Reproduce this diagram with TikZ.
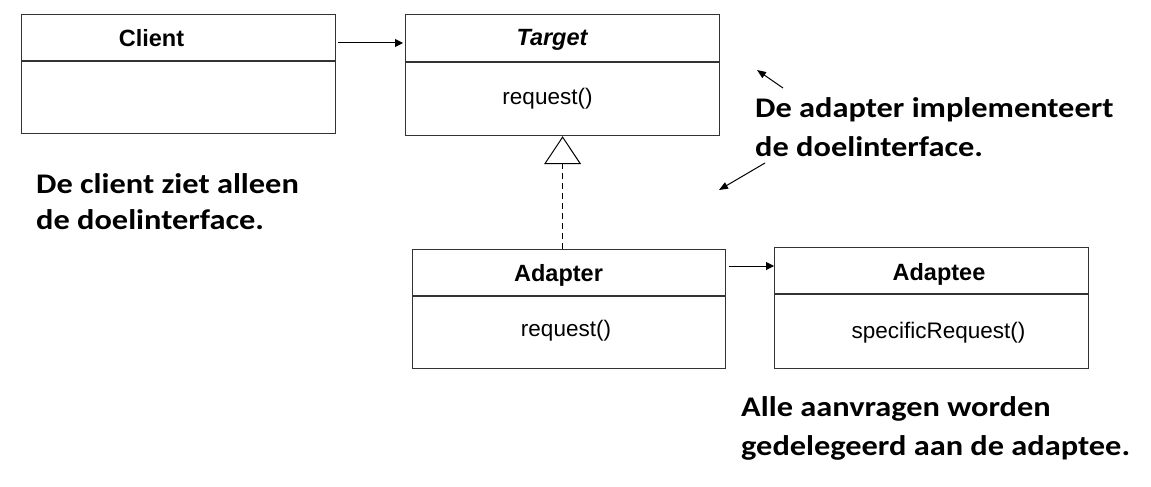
\documentclass[tikz,border=0pt]{standalone}
\usepackage{fontspec}
\setmainfont{Liberation Sans}
\newfontfamily\notefont{Carlito}[FakeStretch=1.14]
\usetikzlibrary{arrows.meta}
\tikzset{
  umlbox/.style={draw=black!80, line width=1.2pt, anchor=north west, inner sep=0pt, minimum width=314pt, minimum height=119pt},
  divider/.style={draw=black!80, line width=1.2pt},
  title/.style={anchor=base, inner sep=0pt, font=\fontsize{23.5}{28}\selectfont\bfseries},
  method/.style={anchor=base, inner sep=0pt, font=\fontsize{22.5}{27}\selectfont},
  note/.style={anchor=base west, inner sep=0pt, align=left},
  assoc/.style={line width=1pt, -{Triangle[length=8pt,width=8pt]}},
  realize/.style={line width=1pt, dash pattern=on 6pt off 4pt, -{Triangle[open, length=28pt, width=37pt, fill=white]}},
  pointer/.style={line width=1pt, -{Triangle[length=9pt,width=7pt]}}
}
\begin{document}
\begin{tikzpicture}[x=1pt,y=-1pt]
\useasboundingbox (0,0) rectangle (1151,487);
\fill[white] (0,0) rectangle (1151,487);

% Client
\node[umlbox] (client) at (21,14) {};
\draw[divider] ([yshift=-47pt]client.north west) -- ([yshift=-47pt]client.north east);
\node[title] (clientname) at (151.5,47) {Client};

% Target
\node[umlbox, minimum height=121pt] (target) at (405,14) {};
\draw[divider] ([yshift=-48pt]target.north west) -- ([yshift=-48pt]target.north east);
\node[title, font=\fontsize{23.5}{28}\selectfont\bfseries\itshape] (targetname) at (552,46) {Target};
\node[method] (targetop) at (547.5,104) {request()};

% Adapter
\node[umlbox, minimum width=313pt] (adapter) at (412,249) {};
\draw[divider] ([yshift=-47pt]adapter.north west) -- ([yshift=-47pt]adapter.north east);
\node[title] (adaptername) at (558.5,281) {Adapter};
\node[method] (adapterop) at (566,336) {request()};

% Adaptee
\node[umlbox, minimum height=121pt] (adaptee) at (774,247) {};
\draw[divider] ([yshift=-47pt]adaptee.north west) -- ([yshift=-47pt]adaptee.north east);
\node[title] (adapteename) at (939,280) {Adaptee};
\node[method] (adapteeop) at (938.5,338) {specificRequest()};

% connectors
\draw[assoc, shorten >=2pt] ([shift={(2pt,-29pt)}]client.north east) -- ([shift={(0pt,-29pt)}]target.north west);
\draw[realize] (adapter.north -| target.south) -- (target.south);
\draw[assoc] ([shift={(3pt,-17pt)}]adapter.north east) -- ([shift={(0pt,-19pt)}]adaptee.north west);

% annotation pointers
\coordinate (p1s) at (783,88);
\coordinate (p1e) at (757,70);
\coordinate (p2s) at (765,163);
\coordinate (p2e) at (719,190);
\draw[pointer] (p1s) -- (p1e);
\draw[pointer] (p2s) -- (p2e);

% annotations (anchor = baseline of the last line)
\node[note, font=\notefont\bfseries\fontsize{28.4}{36}\selectfont] (noteclient) at (36,229) {De client ziet alleen\\de doelinterface.};
\node[note, font=\notefont\bfseries\fontsize{28.4}{39}\selectfont] (noteadapter) at (755,156) {De adapter implementeert\\de doelinterface.};
\node[note, font=\notefont\bfseries\fontsize{28.4}{39}\selectfont] (notedelegate) at (741,455) {Alle aanvragen worden\\gedelegeerd aan de adaptee.};
\end{tikzpicture}
\end{document}
